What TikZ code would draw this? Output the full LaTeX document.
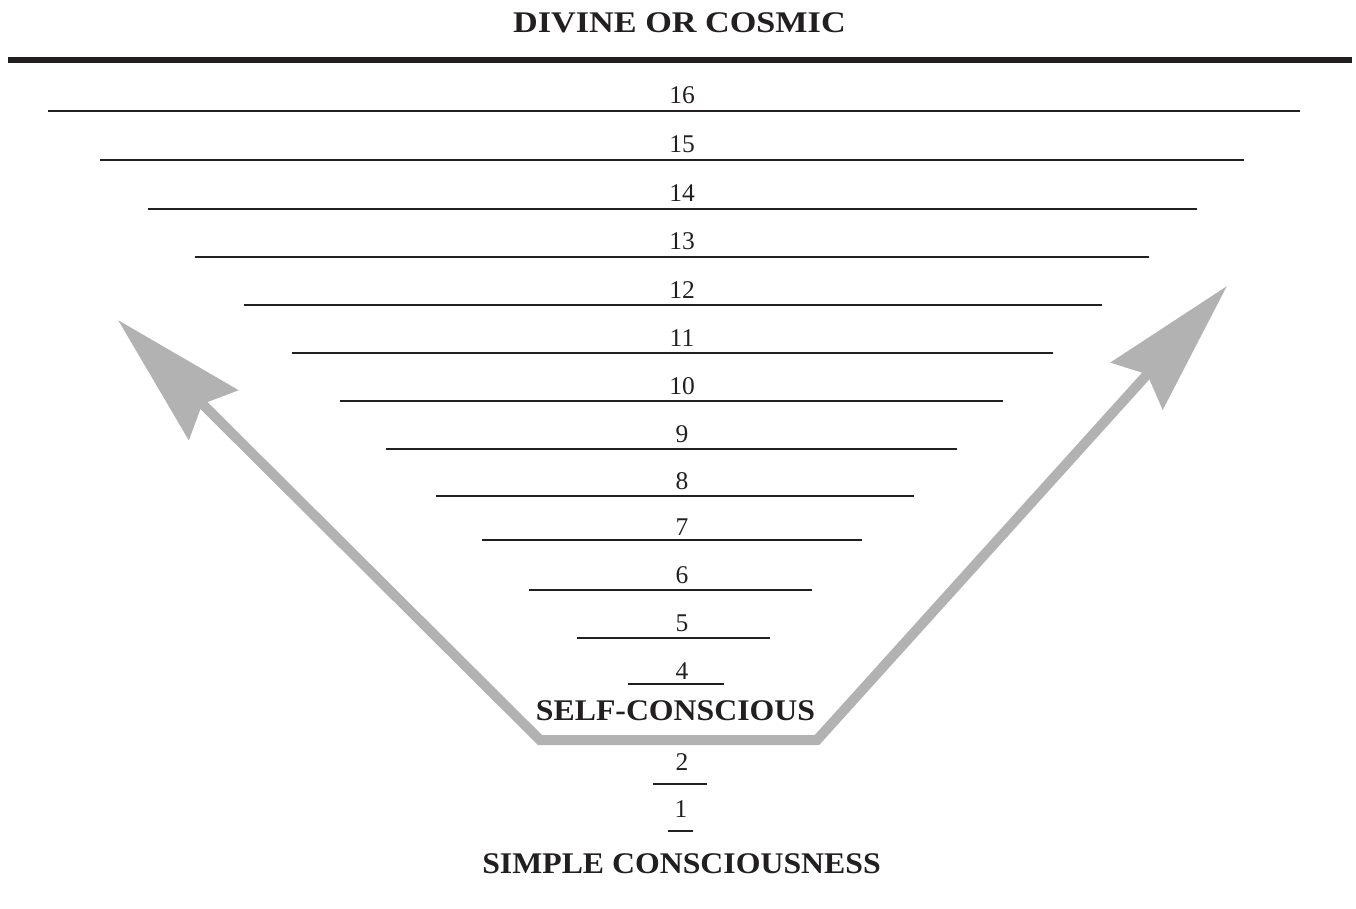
\documentclass[tikz,border=0pt]{standalone}
\usepackage{fontspec}
\setmainfont{Liberation Serif}
\usetikzlibrary{
  arrows.meta,
  positioning
}
\definecolor{inkblack}{RGB}{35,31,32}
\definecolor{arrowgray}{RGB}{178,178,178}
\tikzset{
  rung/.style={draw=inkblack,line width=2.6pt},
  topbar/.style={draw=inkblack,line width=6pt},
  levelnum/.style={font=\fontsize{25.5}{25}\selectfont,text=inkblack,anchor=base,inner sep=0pt},
  heading/.style={font=\fontsize{30}{30}\selectfont\bfseries\addfontfeatures{FakeStretch=1.06},
    text=inkblack,anchor=base,inner sep=0pt},
  wide heading/.style={heading,font=\fontsize{30}{30}\selectfont\bfseries\addfontfeatures{FakeStretch=1.14}},
  ascent/.style={
    draw=arrowgray,
    line width=10pt,
    line join=miter,
    {Stealth[length=134pt,width=69pt,inset=15pt]}-{Stealth[length=134pt,width=69pt,inset=15pt]}
  }
}

\begin{document}
\begin{tikzpicture}[x=1pt,y=-1pt]
  \useasboundingbox (0,0) rectangle (1356,909);

  \node[wide heading] (divine) at (679.5,33) {DIVINE OR COSMIC};
  \draw[topbar] (8,60) -- (1352,60);

  % the ladder of levels
  \draw[rung] (48,111) -- (1300,111);
  \node[levelnum] (n16) at (682,104) {16};
  \draw[rung] (100,160) -- (1244,160);
  \node[levelnum] (n15) at (682,153) {15};
  \draw[rung] (148,209) -- (1197,209);
  \node[levelnum] (n14) at (682,202) {14};
  \draw[rung] (195,257) -- (1149,257);
  \node[levelnum] (n13) at (682,250) {13};
  \draw[rung] (244,305) -- (1102,305);
  \node[levelnum] (n12) at (682,298) {12};
  \draw[rung] (292,353) -- (1053,353);
  \node[levelnum] (n11) at (682,346) {11};
  \draw[rung] (340,401) -- (1003,401);
  \node[levelnum] (n10) at (682,394) {10};
  \draw[rung] (386,449) -- (957,449);
  \node[levelnum] (n9) at (682,442) {9};
  \draw[rung] (436,496) -- (914,496);
  \node[levelnum] (n8) at (682,489) {8};
  \draw[rung] (482,540) -- (862,540);
  \node[levelnum] (n7) at (682,535) {7};
  \draw[rung] (529,590) -- (812,590);
  \node[levelnum] (n6) at (682,583) {6};
  \draw[rung] (577,638) -- (770,638);
  \node[levelnum] (n5) at (682,631) {5};
  \draw[rung] (628,684) -- (724,684);
  \node[levelnum] (n4) at (682,679) {4};

  \node[heading] (selfcon) at (675.5,720) {SELF-CONSCIOUS};

  \draw[rung] (653,784) -- (707,784);
  \node[levelnum] (n2) at (682,770) {2};
  \draw[rung] (668,831) -- (693,831);
  \node[levelnum] (n1) at (681,817) {1};

  \node[heading] (simplecon) at (681.5,873) {SIMPLE CONSCIOUSNESS};

  % the two rising arrows
  \coordinate (ltip) at (118,320);
  \coordinate (lbend) at (540,740);
  \coordinate (rbend) at (817,740);
  \coordinate (rtip) at (1227,286);
  \draw[ascent] (ltip) -- (lbend) -- (rbend) -- (rtip);
\end{tikzpicture}
\end{document}
